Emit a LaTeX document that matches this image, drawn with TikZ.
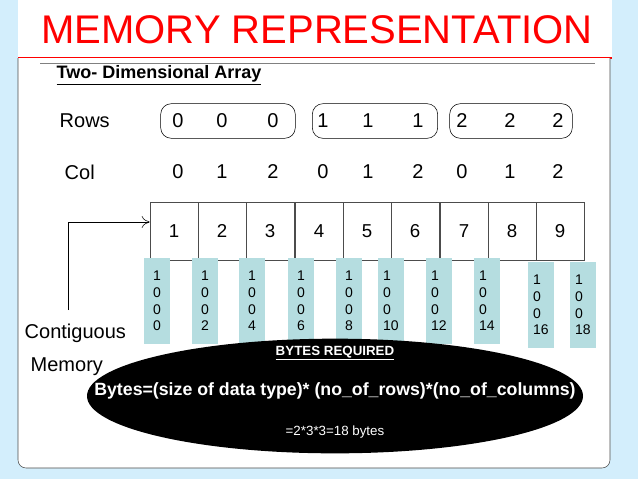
\documentclass[tikz,border=0pt]{standalone}
\usepackage{fontspec}
\setmainfont{Liberation Sans}
\usetikzlibrary{arrows.meta,shapes.geometric}
\definecolor{addrc}{HTML}{B5DDE0}
\definecolor{bgc}{HTML}{D3EEFC}
\begin{document}
\begin{tikzpicture}[x=0.75pt,y=-0.75pt,
  lbl/.style={font=\fontsize{15}{15}\selectfont},
  cell/.style={draw=black!70,fill=white,minimum width=36pt,minimum height=43.5pt,inner sep=0pt,font=\fontsize{14}{14}\selectfont},
  addr/.style={fill=addrc,minimum width=19pt,minimum height=64pt,inner sep=1pt,align=left,anchor=north west,font=\fontsize{10.5}{12.5}\selectfont},
  rowbox/.style={draw,rounded corners=8pt,minimum height=26pt,inner sep=0pt}]
\fill[bgc] (0,0) rectangle (638,479);
\useasboundingbox (0,0) rectangle (638,479);
\fill[white] (18,0) rectangle (612,58);
\draw[red,line width=0.8pt] (18,58) -- (612,58);
\node (title) at (317,30) {\color{red}\fontsize{30}{30}\selectfont MEMORY REPRESENTATION};
\draw[black!70,fill=white,rounded corners=6pt] (18,58) -- (18,468) -- (610,468) -- (610,58);
\draw[black!50] (40,63) -- (595,63);
\node[anchor=west,font=\bfseries\fontsize{13.5}{13.5}\selectfont] (t2) at (52,75) {\underline{Two- Dimensional Array}};
\node[anchor=west,lbl] (rows) at (55,121) {Rows};
\node[anchor=west,lbl] (col) at (60,172) {Col};
\node[rowbox,minimum width=101pt] (r0) at (228,121) {};
\node[rowbox,minimum width=94pt] (r1) at (375,121) {};
\node[rowbox,minimum width=92pt] (r2) at (511,121) {};
\foreach \x/\r/\c in {178/0/0,222/0/1,273/0/2,323/1/0,368/1/1,418/1/2,462/2/0,510/2/1,558/2/2}{
  \node[lbl] at (\x,121) {\r};
  \node[lbl] at (\x,172) {\c};}
\foreach \i/\x in {1/174,2/222,3/270,4/319,5/367,6/415,7/464,8/512,9/560}{
  \node[cell] (c\i) at (\x,231) {\i};}
\foreach \i/\x/\y/\v in {1/144/258/0,2/192/258/2,3/239/258/4,4/288/258/6,5/336/258/8,6/378/258/10,7/426/258/12,8/474/258/14,9/528/262/16,10/570/262/18}{
  \node[addr] (a\i) at (\x,\y) {1\\0\\0\\\v};}
\coordinate (s) at (68,310);
\coordinate (k) at (68,222);
\draw[-{To[length=6pt,width=9pt]}] (s) -- (k) -- (c1.west |- k);
\node[anchor=west,lbl] (cont) at (20,333) {Contiguous};
\node[anchor=west,lbl] (mem) at (26,367) {Memory};
\node[fill=black,ellipse,minimum width=372pt,minimum height=86pt] (ell) at (335,396) {};
\node[white,font=\bfseries\fontsize{10}{10}\selectfont] at (335,353) {\underline{BYTES REQUIRED}};
\node[white,font=\bfseries\fontsize{13.3}{13.3}\selectfont] at (335,391) {Bytes=(size of data type)* (no\_of\_rows)*(no\_of\_columns)};
\node[white,font=\fontsize{10}{10}\selectfont] at (335,432) {=2*3*3=18 bytes};
\end{tikzpicture}
\end{document}
